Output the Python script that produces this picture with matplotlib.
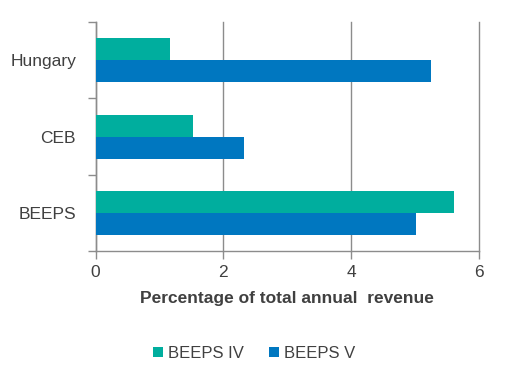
import matplotlib.pyplot as plt
import numpy as np
from matplotlib import font_manager

categories = ["BEEPS", "CEB", "Hungary"]
beeps_iv = [5.61, 1.52, 1.17]
beeps_v = [5.01, 2.32, 5.25]
series_names = ["BEEPS IV", "BEEPS V"]

names = {f.name for f in font_manager.fontManager.ttflist}
font = "Liberation Sans Narrow" if "Liberation Sans Narrow" in names else "Liberation Sans"
plt.rcParams["font.family"] = [font, "DejaVu Sans"]

teal = "#00AE9E"
blue = "#0077C0"
grey = "#8C8C8C"
text_col = "#404040"

fig = plt.figure(figsize=(5.08, 3.84), dpi=100)
ax = fig.add_axes([0.188, 0.346, 0.755, 0.597])

y = np.arange(len(categories))
h = 0.288
ax.barh(y + h / 2, beeps_iv, height=h, color=teal, label=series_names[0], zorder=3)
ax.barh(y - h / 2, beeps_v, height=h, color=blue, label=series_names[1], zorder=3)

ax.set_xlim(0, 6)
ax.set_ylim(-0.5, len(categories) - 0.5)
ax.set_xticks([0, 2, 4, 6])
ax.set_yticks(y)
ax.set_yticklabels(categories)
ax.set_yticks(np.arange(-0.5, len(categories)), minor=True)
ax.tick_params(axis="y", which="major", length=0, pad=14, labelsize=12.5, labelcolor=text_col)
ax.tick_params(axis="y", which="minor", length=6, color=grey, width=1)
ax.tick_params(axis="x", length=6, color=grey, width=1, labelsize=12.5, labelcolor=text_col, pad=4)

ax.grid(axis="x", color=grey, linewidth=1, zorder=0)
for gl in ax.get_xgridlines():
    gl.set_clip_on(False)
for s in ["top", "right"]:
    ax.spines[s].set_visible(False)
for s in ["left", "bottom"]:
    ax.spines[s].set_color(grey)
    ax.spines[s].set_linewidth(1)

ax.set_xlabel("Percentage of total annual  revenue", fontsize=12.5, fontweight="bold",
              color=text_col, labelpad=8)

fig.legend(loc="center", bbox_to_anchor=(0.5, 0.08), ncol=2, frameon=False,
           fontsize=12, handlelength=0.6, handleheight=0.6, handletextpad=0.3,
           columnspacing=1.5, labelcolor=text_col)

fig.savefig("out.png", dpi=100)
